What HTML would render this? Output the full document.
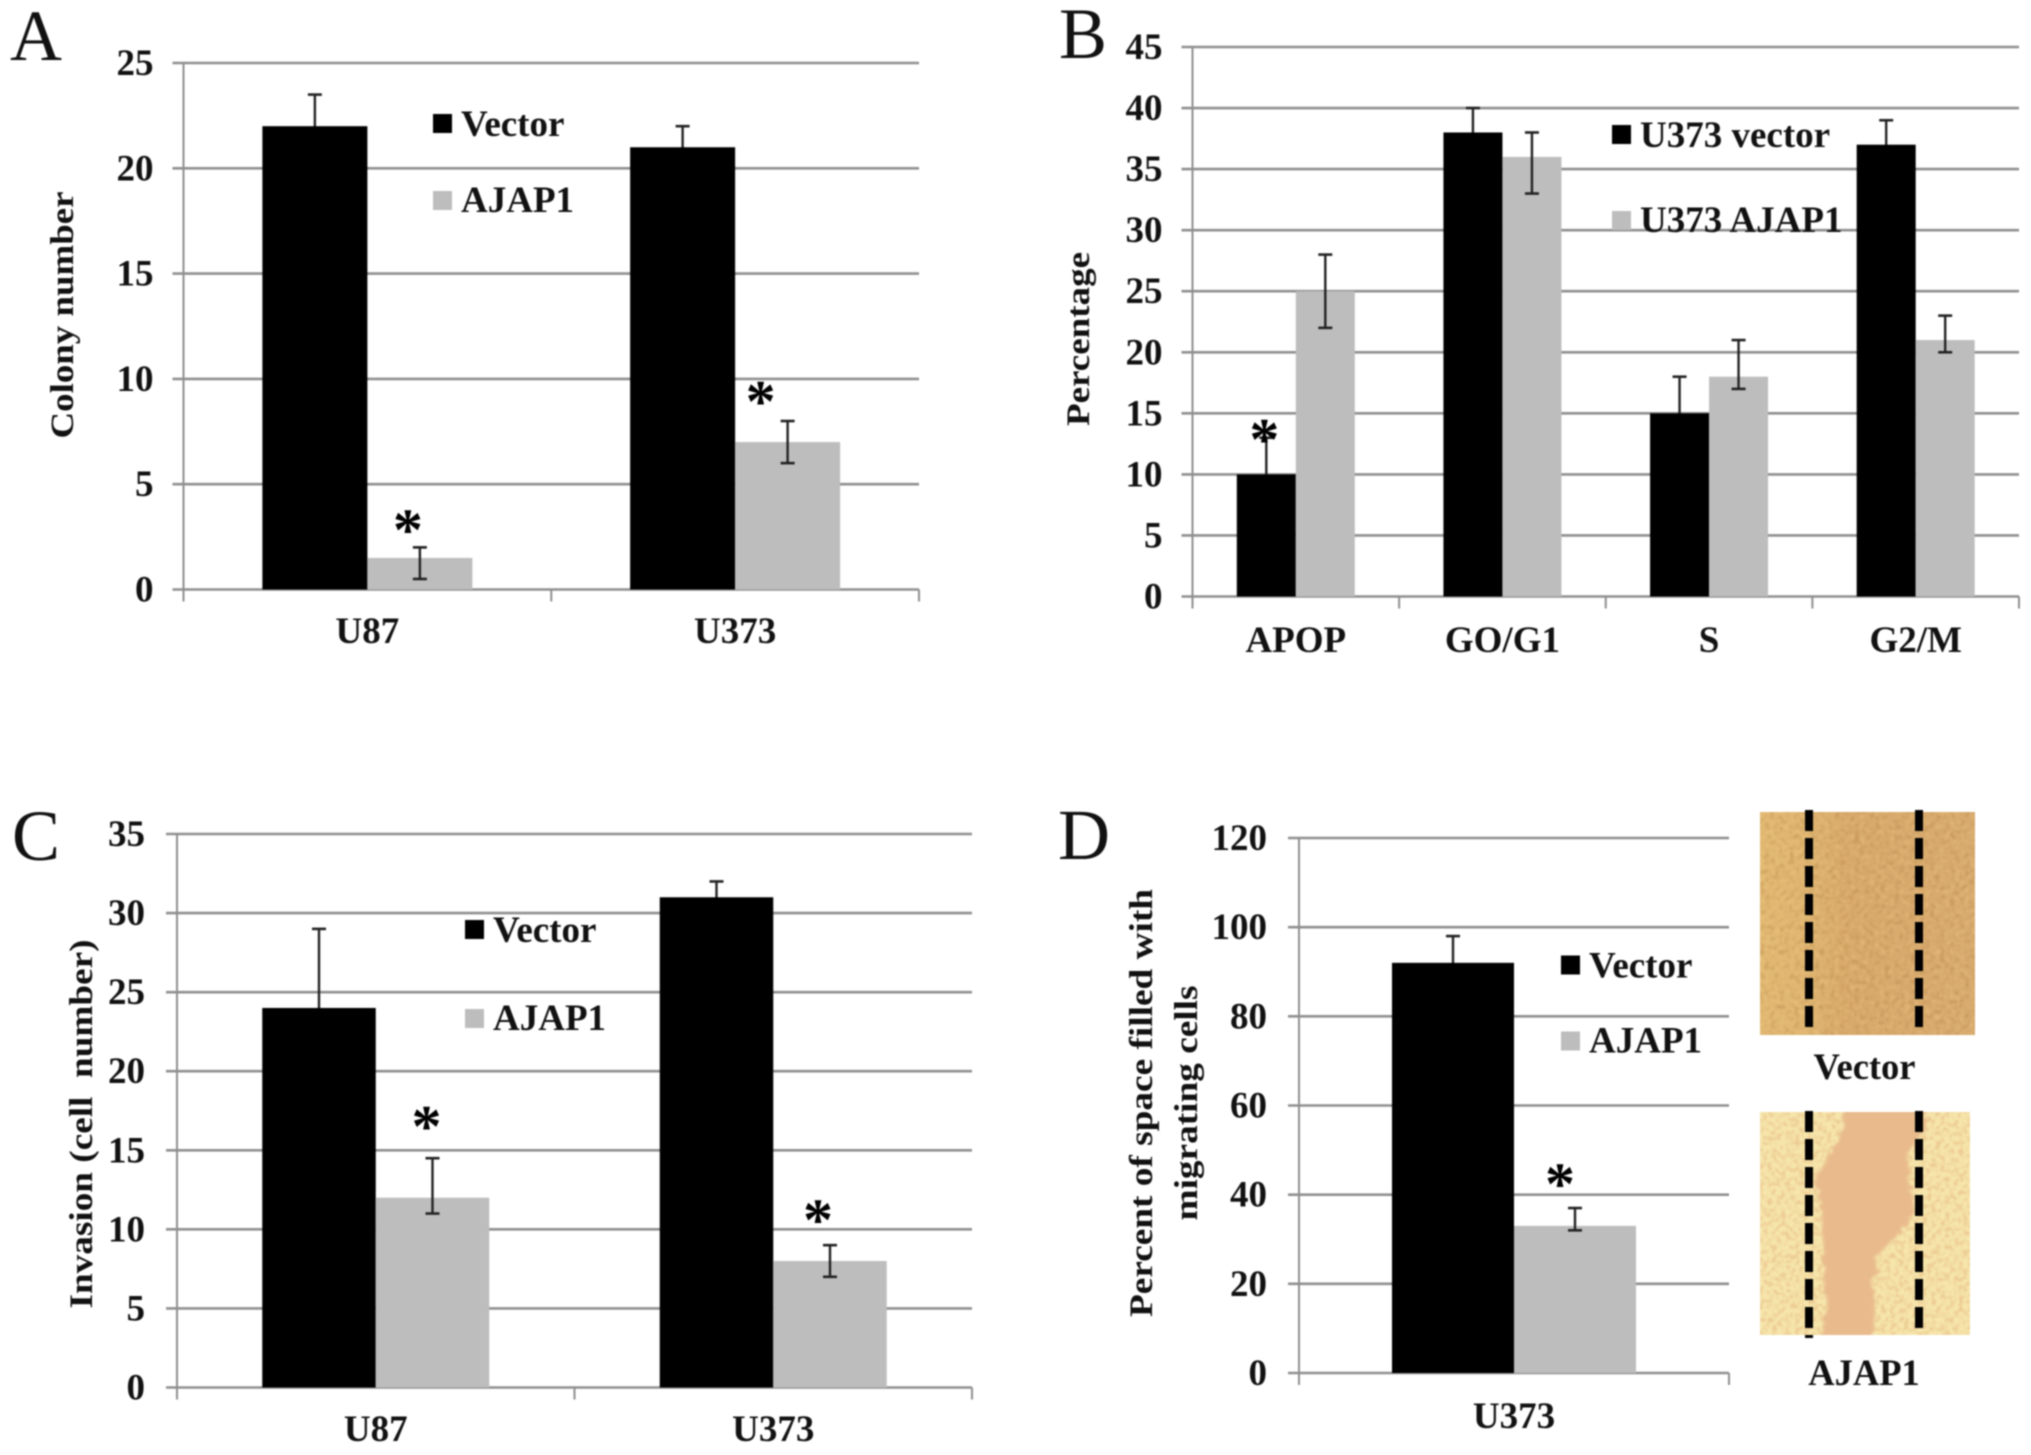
<!DOCTYPE html>
<html lang="en">
<head>
<meta charset="utf-8">
<title>AJAP1 four-panel bar charts</title>
<style>
  html, body { margin: 0; padding: 0; background: #fff; }
  body { width: 2031px; height: 1455px; overflow: hidden; }
  svg { display: block; filter: blur(0.7px); }
  text { font-family: "Liberation Serif", serif; font-weight: bold; fill: #111; }
  .letter { font-weight: normal; font-size: 72px; }
  .tick { font-size: 37px; text-anchor: end; }
  .cat { font-size: 37px; text-anchor: middle; }
  .leg { font-size: 37px; }
  .ytitle { font-size: 33px; text-anchor: middle; }
  .cap { font-size: 36.5px; text-anchor: middle; }
</style>
</head>
<body>
<svg id="fig" width="2031" height="1455" viewBox="0 0 2031 1455" xmlns="http://www.w3.org/2000/svg">
  <defs>
    <filter id="cellNoiseA" x="0" y="0" width="100%" height="100%" color-interpolation-filters="sRGB">
      <feTurbulence type="fractalNoise" baseFrequency="0.2" numOctaves="3" seed="4"/>
      <feColorMatrix type="matrix" values="0 0 0 0 0.70  0 0 0 0 0.50  0 0 0 0 0.27  3 0 0 0 -1.3"/>
      <feGaussianBlur stdDeviation="0.8"/>
    </filter>
    <filter id="cellLightA" x="0" y="0" width="100%" height="100%" color-interpolation-filters="sRGB">
      <feTurbulence type="fractalNoise" baseFrequency="0.2" numOctaves="3" seed="17"/>
      <feColorMatrix type="matrix" values="0 0 0 0 0.93  0 0 0 0 0.78  0 0 0 0 0.50  3 0 0 0 -1.3"/>
      <feGaussianBlur stdDeviation="0.8"/>
    </filter>
    <filter id="cellNoiseB" x="0" y="0" width="100%" height="100%" color-interpolation-filters="sRGB">
      <feTurbulence type="fractalNoise" baseFrequency="0.22" numOctaves="3" seed="9"/>
      <feColorMatrix type="matrix" values="0 0 0 0 0.90  0 0 0 0 0.72  0 0 0 0 0.50  3.5 0 0 0 -1.5"/>
      <feGaussianBlur stdDeviation="0.8"/>
    </filter>
    <filter id="woundEdge" x="-10%" y="-5%" width="120%" height="110%" color-interpolation-filters="sRGB">
      <feTurbulence type="fractalNoise" baseFrequency="0.09" numOctaves="2" seed="3" result="n"/>
      <feDisplacementMap in="SourceGraphic" in2="n" scale="12" xChannelSelector="R" yChannelSelector="G"/>
      <feGaussianBlur stdDeviation="1.2"/>
    </filter>
    <linearGradient id="vecGrad" x1="0" x2="1" y1="0" y2="0">
      <stop offset="0" stop-color="#e3ba74"/>
      <stop offset="0.22" stop-color="#e0b672"/>
      <stop offset="0.4" stop-color="#d8aa6c"/>
      <stop offset="1" stop-color="#d8ab70"/>
    </linearGradient>
    <clipPath id="ajapClip"><rect x="1760" y="1112" width="210" height="223"/></clipPath>
  </defs>

  <text class="letter" x="10" y="60">A</text>
  <text class="letter" x="1059" y="58">B</text>
  <text class="letter" x="12" y="860">C</text>
  <text class="letter" x="1058" y="859">D</text>

  <text class="ytitle" transform="translate(73 315) rotate(-90)" textLength="247" lengthAdjust="spacingAndGlyphs">Colony number</text>
  <text class="ytitle" transform="translate(1089 339) rotate(-90)" textLength="174" lengthAdjust="spacingAndGlyphs">Percentage</text>
  <text class="ytitle" transform="translate(92 1124) rotate(-90)" textLength="369" lengthAdjust="spacingAndGlyphs" xml:space="preserve">Invasion (cell  number)</text>
  <text class="ytitle" transform="translate(1152 1103) rotate(-90)" textLength="428" lengthAdjust="spacingAndGlyphs">Percent of space filled with</text>
  <text class="ytitle" transform="translate(1197 1103) rotate(-90)" textLength="235" lengthAdjust="spacingAndGlyphs">migrating cells</text>

  <g>
    <rect x="1760" y="812" width="215" height="223" fill="url(#vecGrad)"/>
    <rect x="1760" y="812" width="215" height="223" filter="url(#cellNoiseA)" opacity="0.4"/>
    <rect x="1760" y="812" width="215" height="223" filter="url(#cellLightA)" opacity="0.4"/>
    <line x1="1809" x2="1809" y1="810" y2="1030" stroke="#000" stroke-width="8" stroke-dasharray="21 7"/>
    <line x1="1919" x2="1919" y1="810" y2="1030" stroke="#000" stroke-width="8" stroke-dasharray="21 7"/>
  </g>
  <text class="cap" x="1864.5" y="1079">Vector</text>

  <g>
    <rect x="1760" y="1112" width="210" height="223" fill="#f6e6ac"/>
    <rect x="1760" y="1112" width="210" height="223" filter="url(#cellNoiseB)" opacity="0.6"/>
    <g clip-path="url(#ajapClip)">
      <path d="M1847 1100 L1840 1135 L1830 1155 L1818 1175 L1822 1210 L1823 1245 L1825 1280 L1824 1310 L1823 1345 L1872 1345 L1873 1310 L1875 1278 L1877 1255 L1900 1234 L1917 1210 L1908 1175 L1907 1153 L1925 1130 L1928 1100 Z" fill="#e9bb8c" filter="url(#woundEdge)"/>
    </g>
    <line x1="1809" x2="1809" y1="1111" y2="1338" stroke="#000" stroke-width="8" stroke-dasharray="21 7"/>
    <line x1="1919" x2="1919" y1="1111" y2="1328" stroke="#000" stroke-width="8" stroke-dasharray="21 7"/>
  </g>
  <text class="cap" x="1864" y="1385">AJAP1</text>
</svg>

<script>
// Panel A data
const aCategories = ['U87', 'U373'];
const aTicks = [0, 5, 10, 15, 20, 25];
const aVector = [22, 21];
const aVectorHi = [23.5, 22];
const aVectorLo = [20.5, 20];
const aAjap = [1.5, 7];
const aAjapHi = [2, 8];
const aAjapLo = [0.5, 6];
const aVectorStars = [null, null];
const aAjapStars = [3.2, 9.3];

// Panel B data
const bCategories = ['APOP', 'GO/G1', 'S', 'G2/M'];
const bTicks = [0, 5, 10, 15, 20, 25, 30, 35, 40, 45];
const bVector = [10, 38, 15, 37];
const bVectorHi = [13, 40, 18, 39];
const bVectorLo = [7, 36, 12, 35];
const bAjap = [25, 36, 18, 21];
const bAjapHi = [28, 38, 21, 23];
const bAjapLo = [22, 33, 17, 20];
const bVectorStars = [13.5, null, null, null];
const bAjapStars = [null, null, null, null];

// Panel C data
const cCategories = ['U87', 'U373'];
const cTicks = [0, 5, 10, 15, 20, 25, 30, 35];
const cVector = [24, 31];
const cVectorHi = [29, 32];
const cVectorLo = [19, 30];
const cAjap = [12, 8];
const cAjapHi = [14.5, 9];
const cAjapLo = [11, 7];
const cVectorStars = [null, null];
const cAjapStars = [17.0, 11.1];

// Panel D data
const dCategories = ['U373'];
const dTicks = [0, 20, 40, 60, 80, 100, 120];
const dVector = [92];
const dVectorHi = [98];
const dVectorLo = [86];
const dAjap = [33];
const dAjapHi = [37];
const dAjapLo = [32];
const dVectorStars = [null];
const dAjapStars = [44.2];

const SVG_NS = 'http://www.w3.org/2000/svg';
const fig = document.getElementById('fig');
const GRID = '#8f8f8f';
const GRAY_BAR = '#bdbdbd';

function make(tag, attrs, parent) {
  const node = document.createElementNS(SVG_NS, tag);
  for (const k in attrs) node.setAttribute(k, attrs[k]);
  parent.appendChild(node);
  return node;
}

function drawPanel(p) {
  const group = make('g', {}, fig);
  
  

  const maxV = p.ticks[p.ticks.length - 1];
  const yScale = v => p.bottom - (v / maxV) * (p.bottom - p.top);
  const catW = (p.right - p.left) / p.categories.length;
  const catX = i => p.left + catW * (i + 0.5);

  p.ticks.forEach(t => {
    const y = yScale(t);
    const grid = make('line', { x1: p.left - 11, x2: p.right, y1: y, y2: y, stroke: GRID, 'stroke-width': 2.6 }, group);
    
    
    const label = make('text', { class: 'tick', x: p.left - p.tickGap, y: y + 12 }, group);
    label.textContent = t;
    
    
  });

  const yAxis = make('line', { x1: p.left, x2: p.left, y1: p.top, y2: p.bottom + 12, stroke: GRID, 'stroke-width': 2 }, group);
  
  

  for (let i = 1; i <= p.categories.length; i++) {
    const tx = p.left + catW * i;
    const tick = make('line', { x1: tx, x2: tx, y1: p.bottom, y2: p.bottom + 12, stroke: GRID, 'stroke-width': 2 }, group);
    
    
  }

  const series = [
    { key: 'vector', vals: p.vector, hi: p.vectorHi, lo: p.vectorLo, stars: p.vectorStars, fill: '#000', side: -1 },
    { key: 'ajap1', vals: p.ajap, hi: p.ajapHi, lo: p.ajapLo, stars: p.ajapStars, fill: GRAY_BAR, side: 0 }
  ];

  const drawErrors = s => {
    s.vals.forEach((v, i) => {
      const cx = catX(i) + s.side * p.barW + p.barW / 2;
      const yHi = yScale(s.hi[i]);
      const yLo = yScale(s.lo[i]);
      const stem = make('line', { x1: cx, x2: cx, y1: yHi, y2: yLo, stroke: '#222', 'stroke-width': 2.4 }, group);
      
      
      const capTop = make('line', { x1: cx - 7, x2: cx + 7, y1: yHi, y2: yHi, stroke: '#222', 'stroke-width': 2.6 }, group);
      
      
      const capLow = make('line', { x1: cx - 7, x2: cx + 7, y1: yLo, y2: yLo, stroke: '#222', 'stroke-width': 2.6 }, group);
      
      
    });
  };
  const drawBars = s => {
    s.vals.forEach((v, i) => {
      const x = catX(i) + s.side * p.barW;
      const bar = make('rect', { x: x, y: yScale(v), width: p.barW, height: p.bottom - yScale(v), fill: s.fill }, group);
      
      
    });
  };
  const drawStars = s => {
    s.vals.forEach((v, i) => {
      if (s.stars[i] === null) return;
      const cx = catX(i) + s.side * p.barW + p.barW / 2;
      const star = make('text', { x: cx + p.starDx[i], y: yScale(s.stars[i]) + 28, 'text-anchor': 'middle', 'font-size': 60, style: 'fill:#000' }, group);
      star.textContent = '*';
      
      
    });
  };

  // The lower half of each vector error bar sits behind its black bar.
  drawErrors(series[0]);
  drawBars(series[0]);
  drawBars(series[1]);
  drawErrors(series[1]);
  drawStars(series[0]);
  drawStars(series[1]);

  p.categories.forEach((c, i) => {
    const label = make('text', { class: 'cat', x: catX(i), y: p.catY }, group);
    label.textContent = c;
    
    
  });

  const sw1 = make('rect', { x: p.legX, y: p.legY1, width: 19, height: 19, fill: '#000' }, group);
  
  
  const lt1 = make('text', { class: 'leg', x: p.legTextX, y: p.legY1 + 22 }, group);
  lt1.textContent = p.legendNames[0];
  
  
  const sw2 = make('rect', { x: p.legX, y: p.legY2, width: 19, height: 19, fill: GRAY_BAR }, group);
  
  
  const lt2 = make('text', { class: 'leg', x: p.legTextX, y: p.legY2 + 21 }, group);
  lt2.textContent = p.legendNames[1];
  
  
}

drawPanel({
  id: 'a', categories: aCategories, ticks: aTicks,
  vector: aVector, vectorHi: aVectorHi, vectorLo: aVectorLo, vectorStars: aVectorStars,
  ajap: aAjap, ajapHi: aAjapHi, ajapLo: aAjapLo, ajapStars: aAjapStars,
  left: 183.5, right: 919, top: 63, bottom: 589.5, barW: 105, tickGap: 30, catY: 643,
  starDx: [-12, -27], legX: 433, legY1: 114, legY2: 191, legTextX: 461,
  legendNames: ['Vector', 'AJAP1']
});
drawPanel({
  id: 'b', categories: bCategories, ticks: bTicks,
  vector: bVector, vectorHi: bVectorHi, vectorLo: bVectorLo, vectorStars: bVectorStars,
  ajap: bAjap, ajapHi: bAjapHi, ajapLo: bAjapLo, ajapStars: bAjapStars,
  left: 1192.5, right: 2019, top: 47, bottom: 596.5, barW: 59, tickGap: 30, catY: 652,
  starDx: [-2, 0, 0, 0], legX: 1612, legY1: 125, legY2: 211, legTextX: 1640,
  legendNames: ['U373 vector', 'U373 AJAP1']
});
drawPanel({
  id: 'c', categories: cCategories, ticks: cTicks,
  vector: cVector, vectorHi: cVectorHi, vectorLo: cVectorLo, vectorStars: cVectorStars,
  ajap: cAjap, ajapHi: cAjapHi, ajapLo: cAjapLo, ajapStars: cAjapStars,
  left: 177, right: 972, top: 834, bottom: 1387.5, barW: 113.5, tickGap: 32, catY: 1441,
  starDx: [-6, -12], legX: 465, legY1: 920, legY2: 1009, legTextX: 493,
  legendNames: ['Vector', 'AJAP1']
});
drawPanel({
  id: 'd', categories: dCategories, ticks: dTicks,
  vector: dVector, vectorHi: dVectorHi, vectorLo: dVectorLo, vectorStars: dVectorStars,
  ajap: dAjap, ajapHi: dAjapHi, ajapLo: dAjapLo, ajapStars: dAjapStars,
  left: 1299, right: 1729, top: 838, bottom: 1373, barW: 122, tickGap: 32, catY: 1428,
  starDx: [-15], legX: 1561, legY1: 955.5, legY2: 1031.5, legTextX: 1589,
  legendNames: ['Vector', 'AJAP1']
});
</script>
</body>
</html>
